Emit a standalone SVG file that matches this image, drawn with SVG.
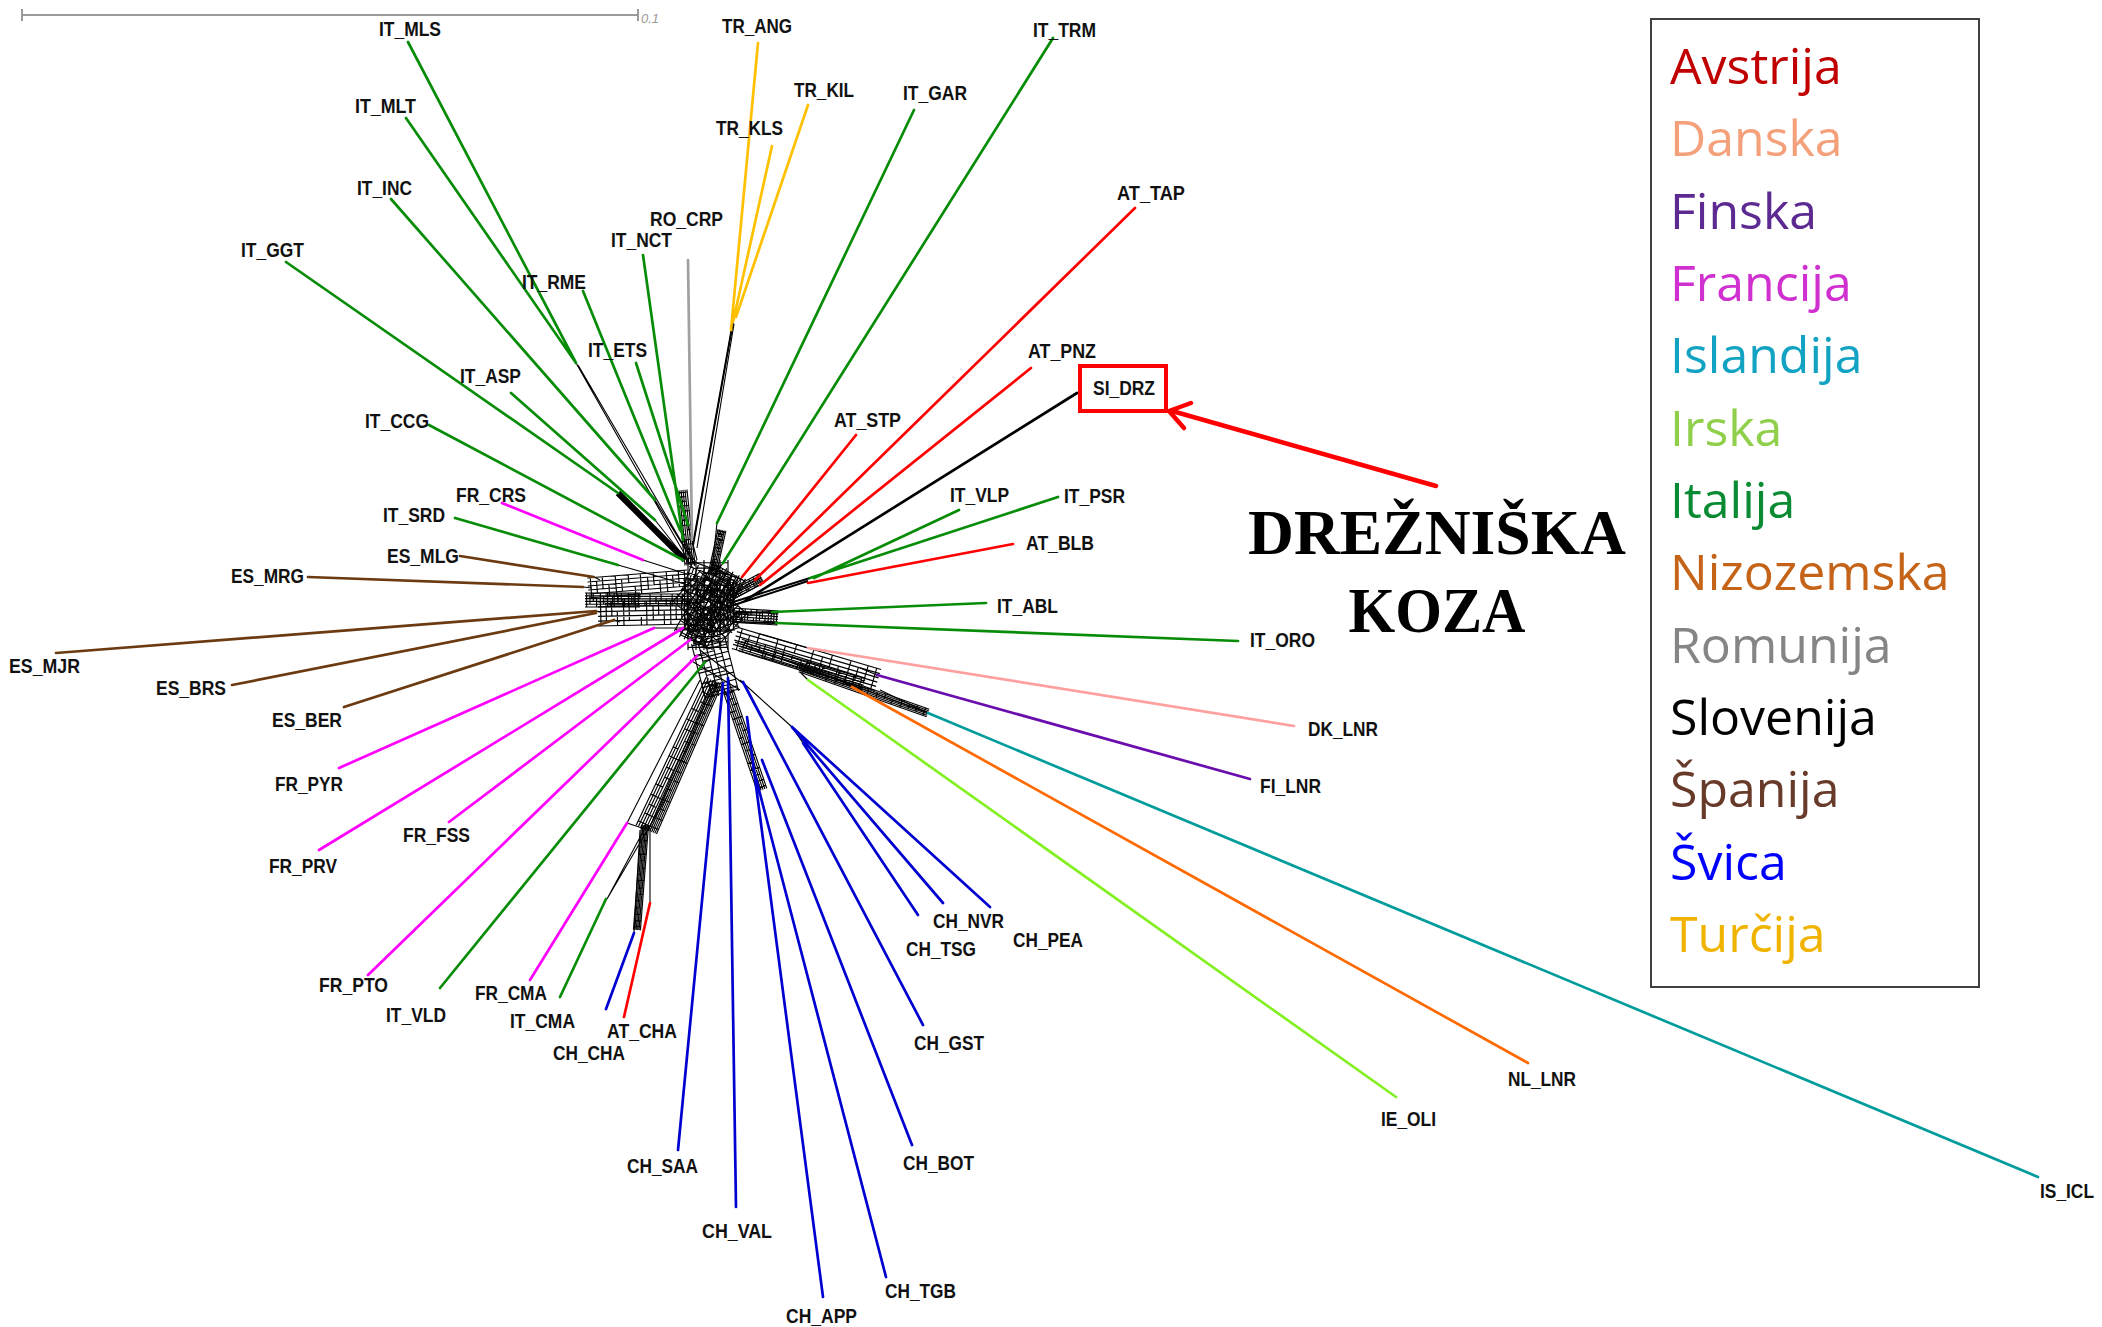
<svg xmlns="http://www.w3.org/2000/svg" xmlns:xlink="http://www.w3.org/1999/xlink" width="2102" height="1327" viewBox="0 0 2102 1327">
<style>
.e{fill:none;stroke-width:2.7;stroke-linecap:round}
.g{stroke:#078c07}.fr{stroke:#ff00ff}.es{stroke:#6b3a10}.ch{stroke:#0000d0}.at{stroke:#ff0000}.tr{stroke:#ffc000}.ro{stroke:#a0a0a0}.si{stroke:#000}.dk{stroke:#ffa0a0}.fi{stroke:#6a0dad}.is{stroke:#009c9c}.nl{stroke:#ff6a00}.ie{stroke:#84f024}
.k{fill:none;stroke:#000;stroke-width:1.1}
.lb{font-family:"Liberation Sans Narrow","Liberation Sans",Arial,sans-serif;font-weight:bold;font-size:21px;fill:#111}
.lg{font-family:"Open Sans","Noto Sans","DejaVu Sans",sans-serif;font-size:50px}
.big{font-family:"Liberation Serif","Times New Roman",serif;font-weight:bold;font-size:63px;fill:#000}
</style>
<defs>
<path id="lad" fill="none" stroke="#000" stroke-width="1.15" vector-effect="non-scaling-stroke" d="M0,-5H100M0,-3H100M0,-1H100M0,1H100M0,3H100M0,5H100M3,-5V5M9,-3V3M15,-5V1M21,-1V5M28,-5V5M34,-3V3M41,-5V-1M47,1V5M53,-5V5M60,-3V3M66,-5V1M72,-1V5M79,-5V5M85,-3V3M91,-5V3M97,-5V5"/>
</defs>
<rect width="2102" height="1327" fill="#fff"/>

<g id="scale-bar" stroke="#9a9a9a" stroke-width="2" fill="none">
<line x1="22" y1="15" x2="638" y2="15"/>
<line x1="22" y1="9" x2="22" y2="21"/>
<line x1="638" y1="9" x2="638" y2="21"/>
</g>
<text x="641" y="23" font-family="Liberation Sans,Arial,sans-serif" font-style="italic" font-size="13" fill="#9a9a9a">0.1</text>

<g id="connectors">
<g id="network">
<use href="#lad" transform="translate(588,588) rotate(-4.57) scale(1.003,2.0)"/>
<use href="#lad" transform="translate(598,614) rotate(-1.25) scale(0.92,2.4)"/>
<use href="#lad" transform="translate(605,600) scale(0.85,1.2)"/>
<use href="#lad" transform="translate(585,600) scale(0.55,1.4)"/>
<use href="#lad" transform="translate(690,565) rotate(-96.1) scale(0.754,1.0)"/>
<use href="#lad" transform="translate(712,575) rotate(-77.5) scale(0.46,0.8)"/>
<use href="#lad" transform="translate(730,595) rotate(-27.97) scale(0.362,1.0)"/>
<use href="#lad" transform="translate(732,615) rotate(3.73) scale(0.461,1.4)"/>
<use href="#lad" transform="translate(735,638) rotate(16.37) scale(1.49,2.2)"/>
<use href="#lad" transform="translate(740,645) rotate(17.5) scale(1.3,1.2)"/>
<use href="#lad" transform="translate(800,668) rotate(19.37) scale(1.357,0.8)"/>
<use href="#lad" transform="translate(708,640) rotate(75.7) scale(0.568,3.4)"/>
<use href="#lad" transform="translate(712,680) rotate(115.3) scale(1.637,1.3)"/>
<use href="#lad" transform="translate(718,682) rotate(113.6) scale(1.64,0.9)"/>
<use href="#lad" transform="translate(645,825) rotate(94.4) scale(1.053,0.7)"/>
<use href="#lad" transform="translate(728,690) rotate(71.2) scale(1.056,1.0)"/>
<use href="#lad" transform="translate(685,585) rotate(42) scale(0.67,4.0)"/>
<use href="#lad" transform="translate(690,640) rotate(-60.3) scale(0.806,3.6)"/>
<use href="#lad" transform="translate(683,605) scale(0.52,5.0)"/>
<use href="#lad" transform="translate(708,560) rotate(90) scale(0.9,4.0)"/>
<use href="#lad" transform="translate(686,575) rotate(20) scale(0.55,3.0)"/>
<use href="#lad" transform="translate(688,630) rotate(-20) scale(0.5,3.0)"/>
<use href="#lad" transform="translate(725,570) rotate(115) scale(0.8,2.6)"/>
<use href="#lad" transform="translate(618,493) rotate(45) scale(0.948,0.5)"/>
<path class="k" d="M576,363L688,560M578,365L691,558M655,500L695,565M655,520L693,568M680,530L694,560M688,525L697,560M683,540L695,566M733,322L693,545M734,324L697,548M717,523L712,570M723,563L715,575M742,577L728,595M755,580L730,597M760,585L732,600M746,600L733,606M643,560L690,575M618,565L688,585M594,577L600,580M583,587L592,588M596,611L600,612M614,620L620,622M654,628L690,628M683,628L695,630M690,640L700,642M697,656L705,655M705,662L710,660M808,648L760,634M877,675L860,668M852,687L840,680M808,680L800,672M928,713L880,690M928,713L735,642M792,727L740,680M792,727L803,743M650,828L650,903M640,830L634,933M607,899L668,795M607,899L645,828M627,823L700,680M627,823L642,828M690,660L740,690M700,650L745,685"/>
<path fill="none" stroke="#000" stroke-width="2" d="M808,581L728,607M810,578L730,603M772,612L734,613M776,623L734,622M733,322L693,545"/>
</g>

<path class="e g" d="M408,42L576,363M406,118L576,363M391,199L655,500M286,262L618,493M429,425L683,560M511,393L655,520M583,291L680,530M636,363L688,525M643,255L683,540M914,110L717,523M1053,38L723,563M959,510L814,578M1058,497L810,578M986,603L772,612M1238,641L776,623M455,518L618,565M440,988L705,662M560,997L606,899"/>
<path class="e fr" d="M502,503L643,560M339,768L654,628M319,850L683,628M449,822L690,640M368,975L697,656M530,980L627,823"/>
<path class="e es" d="M460,556L594,577M308,577L583,587M56,653L596,611M232,685L596,613M344,707L614,620"/>
<path class="e at" d="M1135,208L755,580M1031,368L760,585M856,435L742,577M1013,544L808,583M624,1017L650,903"/>
<path class="e tr" d="M758,43L731,330M772,146L733,322M808,105L736,317"/>
<path class="e ro" d="M688,260L692,540"/>
<path class="e si" d="M1077,393L746,600"/>
<path class="e dk" d="M1294,726L808,648"/>
<path class="e fi" d="M1250,779L877,675"/>
<path class="e is" d="M2038,1177L928,713"/>
<path class="e nl" d="M1528,1063L852,687"/>
<path class="e ie" d="M1396,1097L808,680"/>
<path class="e ch" d="M990,907L792,727M943,903L792,727M918,915L803,743M923,1025L743,682M912,1145L762,760M886,1277L753,767M823,1297L747,717M736,1207L728,678M678,1150L723,683M606,1009L634,933"/>

<g id="arrow" fill="none" stroke="#ff0000" stroke-width="4.5" stroke-linecap="round" stroke-linejoin="round">
<line x1="1436" y1="486" x2="1172" y2="411"/>
<polyline points="1191,403 1169,411 1184,428"/>
</g>
</g>

<g id="SI_DRZ-box"><rect x="1080" y="366" width="86" height="45" fill="none" stroke="#ff0000" stroke-width="4"/></g>

<g id="nodes">
<g id="IT_MLS"><text class="lb" x="379" y="36" textLength="62" lengthAdjust="spacingAndGlyphs">IT_MLS</text></g>
<g id="IT_MLT"><text class="lb" x="355" y="113" textLength="61" lengthAdjust="spacingAndGlyphs">IT_MLT</text></g>
<g id="IT_INC"><text class="lb" x="357" y="195" textLength="55" lengthAdjust="spacingAndGlyphs">IT_INC</text></g>
<g id="IT_GGT"><text class="lb" x="241" y="257" textLength="63" lengthAdjust="spacingAndGlyphs">IT_GGT</text></g>
<g id="IT_RME"><text class="lb" x="522" y="289" textLength="64" lengthAdjust="spacingAndGlyphs">IT_RME</text></g>
<g id="IT_ETS"><text class="lb" x="588" y="357" textLength="59" lengthAdjust="spacingAndGlyphs">IT_ETS</text></g>
<g id="IT_NCT"><text class="lb" x="611" y="247" textLength="61" lengthAdjust="spacingAndGlyphs">IT_NCT</text></g>
<g id="RO_CRP"><text class="lb" x="650" y="226" textLength="73" lengthAdjust="spacingAndGlyphs">RO_CRP</text></g>
<g id="IT_ASP"><text class="lb" x="460" y="383" textLength="61" lengthAdjust="spacingAndGlyphs">IT_ASP</text></g>
<g id="IT_CCG"><text class="lb" x="365" y="428" textLength="64" lengthAdjust="spacingAndGlyphs">IT_CCG</text></g>
<g id="TR_ANG"><text class="lb" x="722" y="33" textLength="70" lengthAdjust="spacingAndGlyphs">TR_ANG</text></g>
<g id="TR_KIL"><text class="lb" x="794" y="97" textLength="60" lengthAdjust="spacingAndGlyphs">TR_KIL</text></g>
<g id="TR_KLS"><text class="lb" x="716" y="135" textLength="67" lengthAdjust="spacingAndGlyphs">TR_KLS</text></g>
<g id="IT_GAR"><text class="lb" x="903" y="100" textLength="64" lengthAdjust="spacingAndGlyphs">IT_GAR</text></g>
<g id="IT_TRM"><text class="lb" x="1033" y="37" textLength="63" lengthAdjust="spacingAndGlyphs">IT_TRM</text></g>
<g id="AT_TAP"><text class="lb" x="1117" y="200" textLength="68" lengthAdjust="spacingAndGlyphs">AT_TAP</text></g>
<g id="AT_PNZ"><text class="lb" x="1028" y="358" textLength="68" lengthAdjust="spacingAndGlyphs">AT_PNZ</text></g>
<g id="SI_DRZ"><text class="lb" x="1093" y="395" textLength="62" lengthAdjust="spacingAndGlyphs">SI_DRZ</text></g>
<g id="AT_STP"><text class="lb" x="834" y="427" textLength="67" lengthAdjust="spacingAndGlyphs">AT_STP</text></g>
<g id="IT_VLP"><text class="lb" x="950" y="502" textLength="59" lengthAdjust="spacingAndGlyphs">IT_VLP</text></g>
<g id="IT_PSR"><text class="lb" x="1064" y="503" textLength="61" lengthAdjust="spacingAndGlyphs">IT_PSR</text></g>
<g id="AT_BLB"><text class="lb" x="1026" y="550" textLength="68" lengthAdjust="spacingAndGlyphs">AT_BLB</text></g>
<g id="IT_ABL"><text class="lb" x="997" y="613" textLength="61" lengthAdjust="spacingAndGlyphs">IT_ABL</text></g>
<g id="IT_ORO"><text class="lb" x="1250" y="647" textLength="65" lengthAdjust="spacingAndGlyphs">IT_ORO</text></g>
<g id="DK_LNR"><text class="lb" x="1308" y="736" textLength="70" lengthAdjust="spacingAndGlyphs">DK_LNR</text></g>
<g id="FI_LNR"><text class="lb" x="1260" y="793" textLength="61" lengthAdjust="spacingAndGlyphs">FI_LNR</text></g>
<g id="IS_ICL"><text class="lb" x="2040" y="1198" textLength="54" lengthAdjust="spacingAndGlyphs">IS_ICL</text></g>
<g id="NL_LNR"><text class="lb" x="1508" y="1086" textLength="68" lengthAdjust="spacingAndGlyphs">NL_LNR</text></g>
<g id="IE_OLI"><text class="lb" x="1381" y="1126" textLength="55" lengthAdjust="spacingAndGlyphs">IE_OLI</text></g>
<g id="CH_NVR"><text class="lb" x="933" y="928" textLength="71" lengthAdjust="spacingAndGlyphs">CH_NVR</text></g>
<g id="CH_TSG"><text class="lb" x="906" y="956" textLength="70" lengthAdjust="spacingAndGlyphs">CH_TSG</text></g>
<g id="CH_PEA"><text class="lb" x="1013" y="947" textLength="70" lengthAdjust="spacingAndGlyphs">CH_PEA</text></g>
<g id="CH_GST"><text class="lb" x="914" y="1050" textLength="70" lengthAdjust="spacingAndGlyphs">CH_GST</text></g>
<g id="CH_BOT"><text class="lb" x="903" y="1170" textLength="71" lengthAdjust="spacingAndGlyphs">CH_BOT</text></g>
<g id="CH_TGB"><text class="lb" x="885" y="1298" textLength="71" lengthAdjust="spacingAndGlyphs">CH_TGB</text></g>
<g id="CH_APP"><text class="lb" x="786" y="1323" textLength="71" lengthAdjust="spacingAndGlyphs">CH_APP</text></g>
<g id="CH_VAL"><text class="lb" x="702" y="1238" textLength="70" lengthAdjust="spacingAndGlyphs">CH_VAL</text></g>
<g id="CH_SAA"><text class="lb" x="627" y="1173" textLength="71" lengthAdjust="spacingAndGlyphs">CH_SAA</text></g>
<g id="CH_CHA"><text class="lb" x="553" y="1060" textLength="72" lengthAdjust="spacingAndGlyphs">CH_CHA</text></g>
<g id="AT_CHA"><text class="lb" x="607" y="1038" textLength="70" lengthAdjust="spacingAndGlyphs">AT_CHA</text></g>
<g id="IT_CMA"><text class="lb" x="510" y="1028" textLength="65" lengthAdjust="spacingAndGlyphs">IT_CMA</text></g>
<g id="FR_CMA"><text class="lb" x="475" y="1000" textLength="72" lengthAdjust="spacingAndGlyphs">FR_CMA</text></g>
<g id="IT_VLD"><text class="lb" x="386" y="1022" textLength="60" lengthAdjust="spacingAndGlyphs">IT_VLD</text></g>
<g id="FR_PTO"><text class="lb" x="319" y="992" textLength="69" lengthAdjust="spacingAndGlyphs">FR_PTO</text></g>
<g id="FR_FSS"><text class="lb" x="403" y="842" textLength="67" lengthAdjust="spacingAndGlyphs">FR_FSS</text></g>
<g id="FR_PRV"><text class="lb" x="269" y="873" textLength="68" lengthAdjust="spacingAndGlyphs">FR_PRV</text></g>
<g id="FR_PYR"><text class="lb" x="275" y="791" textLength="68" lengthAdjust="spacingAndGlyphs">FR_PYR</text></g>
<g id="ES_BER"><text class="lb" x="272" y="727" textLength="70" lengthAdjust="spacingAndGlyphs">ES_BER</text></g>
<g id="ES_BRS"><text class="lb" x="156" y="695" textLength="70" lengthAdjust="spacingAndGlyphs">ES_BRS</text></g>
<g id="ES_MJR"><text class="lb" x="9" y="673" textLength="71" lengthAdjust="spacingAndGlyphs">ES_MJR</text></g>
<g id="ES_MRG"><text class="lb" x="231" y="583" textLength="73" lengthAdjust="spacingAndGlyphs">ES_MRG</text></g>
<g id="ES_MLG"><text class="lb" x="387" y="563" textLength="72" lengthAdjust="spacingAndGlyphs">ES_MLG</text></g>
<g id="IT_SRD"><text class="lb" x="383" y="522" textLength="62" lengthAdjust="spacingAndGlyphs">IT_SRD</text></g>
<g id="FR_CRS"><text class="lb" x="456" y="502" textLength="70" lengthAdjust="spacingAndGlyphs">FR_CRS</text></g>
</g>

<g id="callout">
<text class="big" x="1437" y="554" text-anchor="middle" textLength="378" lengthAdjust="spacingAndGlyphs">DREŽNIŠKA</text>
<text class="big" x="1437" y="632" text-anchor="middle" textLength="177" lengthAdjust="spacingAndGlyphs">KOZA</text>
</g>

<g id="legend">
<rect x="1651" y="19" width="328" height="968" fill="#fff" stroke="#404040" stroke-width="2"/>
<text class="lg" x="1670" y="84" fill="#c00000">Avstrija</text>
<text class="lg" x="1670" y="156" fill="#f4a07a">Danska</text>
<text class="lg" x="1670" y="229" fill="#5c2a91">Finska</text>
<text class="lg" x="1670" y="301" fill="#d030d0">Francija</text>
<text class="lg" x="1670" y="373" fill="#12a3c3">Islandija</text>
<text class="lg" x="1670" y="446" fill="#8fcf4a">Irska</text>
<text class="lg" x="1670" y="518" fill="#0a8a32">Italija</text>
<text class="lg" x="1670" y="590" fill="#c56418">Nizozemska</text>
<text class="lg" x="1670" y="663" fill="#858585">Romunija</text>
<text class="lg" x="1670" y="735" fill="#000000">Slovenija</text>
<text class="lg" x="1670" y="807" fill="#673a2a">Španija</text>
<text class="lg" x="1670" y="880" fill="#0000ff">Švica</text>
<text class="lg" x="1670" y="952" fill="#f0b400">Turčija</text>
</g>
</svg>
